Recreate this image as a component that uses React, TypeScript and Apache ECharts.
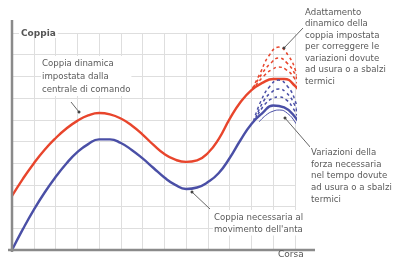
import React, { useEffect, useRef } from "react";
import * as echarts from "echarts";

const xs: number[] = [0, 0.5, 1, 1.5, 2, 2.5, 3, 3.5, 4, 4.5, 5, 5.5, 6, 6.5, 7, 7.5, 8, 8.5, 9, 9.5, 10, 10.5, 11, 11.5, 12, 12.5, 13, 13.5, 13.55];
const redValues: number[] = [2.49, 3.28, 3.99, 4.62, 5.15, 5.6, 5.95, 6.2, 6.31, 6.25, 6.06, 5.74, 5.32, 4.84, 4.42, 4.16, 4.06, 4.13, 4.47, 5.12, 6.04, 6.82, 7.37, 7.7, 7.88, 7.88, 7.56, 6.91, 6.82];
const blueValues: number[] = [0, 0.96, 1.85, 2.65, 3.36, 3.99, 4.51, 4.88, 5.1, 5.1, 4.93, 4.61, 4.22, 3.78, 3.34, 3.0, 2.81, 2.88, 3.13, 3.55, 4.24, 5.07, 5.81, 6.31, 6.66, 6.57, 6.13, 5.35, 5.25];

const blueInner: number[][] = [[11.35, 5.9], [11.65, 6.2], [12.0, 6.4], [12.3, 6.45], [12.65, 6.3], [13.0, 5.9], [13.2, 5.5]];
const redDashed1: number[][] = [[11.05, 7.45], [11.4, 8.15], [11.8, 8.95], [12.25, 9.35], [12.7, 8.95], [13.05, 8.2], [13.3, 7.3]];
const redDashed2: number[][] = [[11.1, 7.5], [11.5, 8.15], [11.9, 8.62], [12.25, 8.85], [12.65, 8.6], [13.0, 8.1], [13.25, 7.4]];
const redDashed3: number[][] = [[11.2, 7.6], [11.6, 8.05], [11.95, 8.32], [12.25, 8.43], [12.6, 8.3], [12.95, 7.95], [13.2, 7.45]];
const blueDashed1: number[][] = [[11.1, 5.95], [11.45, 6.9], [11.85, 7.55], [12.25, 7.83], [12.65, 7.55], [13.0, 6.9], [13.3, 5.75]];
const blueDashed2: number[][] = [[11.2, 6.1], [11.55, 6.85], [11.9, 7.25], [12.25, 7.42], [12.6, 7.25], [12.95, 6.75], [13.25, 5.9]];
const blueDashed3: number[][] = [[11.3, 6.25], [11.65, 6.75], [11.95, 6.98], [12.25, 7.05], [12.6, 6.92], [12.9, 6.55], [13.2, 6.0]];

const yAxisTitle = "Coppia";
const xAxisTitle = "Corsa";
const noteRed = "Coppia dinamica\nimpostata dalla\ncentrale di comando";
const noteAdapt = "Adattamento\ndinamico della\ncoppia impostata\nper correggere le\nvariazioni dovute\nad usura o a sbalzi\ntermici";
const noteVar = "Variazioni della\nforza necessaria\nnel tempo dovute\nad usura o a sbalzi\ntermici";
const noteBlue = "Coppia necessaria al\nmovimento dell'anta";

const RED = "#e8452c";
const BLUE = "#4a4fa6";
const FONT = "'DejaVu Sans', sans-serif";
const TXT = "#5a5a5a";

export default function App() {
  const ref = useRef<HTMLDivElement>(null);
  useEffect(() => {
    if (!ref.current) return;
    const chart = echarts.init(ref.current, null, { renderer: "svg" });
    const redSolid = xs.map((x, i) => [x, redValues[i]]);
    const blueSolid = xs.map((x, i) => [x, blueValues[i]]);
    const solid = (name: string, data: number[][], color: string, width: number) => ({
      type: "line", name, data, smooth: 0.5, showSymbol: false, symbol: "none", clip: false,
      lineStyle: { color, width }, z: 3,
    });
    const dashed = (name: string, data: number[][], color: string) => ({
      type: "line", name, data, smooth: 0.5, showSymbol: false, symbol: "none", clip: false,
      lineStyle: { color, width: 1.5, type: [3, 3] }, z: 3,
    });
    const leader = (x1: number, y1: number, x2: number, y2: number) => [
      { type: "line", shape: { x1, y1, x2, y2 }, style: { stroke: "#666", lineWidth: 1 }, z: 20 },
      { type: "circle", shape: { cx: x2, cy: y2, r: 1.5 }, style: { fill: "#444" }, z: 20 },
    ];
    const note = (x: number, y: number, text: string, lh: number) => ({
      type: "text", x, y, z: 30,
      style: { text, fill: TXT, font: `8.6px ${FONT}`, lineHeight: lh, backgroundColor: "#fff", padding: [1, 1] },
    });
    chart.setOption({
      animation: false,
      grid: { left: 12, right: 100, top: 33, bottom: 9, outerBoundsMode: "none" },
      xAxis: {
        type: "value", min: 0, max: 13, interval: 1,
        axisLine: { show: false }, axisTick: { show: false }, axisLabel: { show: false },
        splitLine: { show: true, lineStyle: { color: "#dedede", width: 1 } },
      },
      yAxis: {
        type: "value", min: 0, max: 10, interval: 1,
        axisLine: { show: false }, axisTick: { show: false }, axisLabel: { show: false },
        splitLine: { show: true, lineStyle: { color: "#dedede", width: 1 } },
      },
      series: [
        solid("red", redSolid, RED, 2.4),
        solid("blue", blueSolid, BLUE, 2.4),
        solid("blueInner", blueInner, BLUE, 1),
        dashed("rd1", redDashed1, RED),
        dashed("rd2", redDashed2, RED),
        dashed("rd3", redDashed3, RED),
        dashed("bd1", blueDashed1, BLUE),
        dashed("bd2", blueDashed2, BLUE),
        dashed("bd3", blueDashed3, BLUE),
      ],
      graphic: [
        { type: "line", shape: { x1: 12, y1: 20, x2: 12, y2: 252 }, style: { stroke: "#8a8a8a", lineWidth: 2.5 }, z: 10 },
        { type: "line", shape: { x1: 8, y1: 250, x2: 315, y2: 250 }, style: { stroke: "#8a8a8a", lineWidth: 2.5 }, z: 10 },
        { type: "text", x: 19, y: 27, z: 30, style: { text: yAxisTitle, fill: "#555", font: `bold 9px ${FONT}`, backgroundColor: "#fff", padding: [1, 2] } },
        { type: "text", x: 278, y: 249, z: 30, style: { text: xAxisTitle, fill: "#555", font: `9px ${FONT}`, lineHeight: 10 } },
        note(41, 56, noteRed, 12.7),
        note(304, 5, noteAdapt, 11.5),
        note(310, 145, noteVar, 11.7),
        note(213, 210, noteBlue, 11.7),
        ...leader(71, 102, 79, 112),
        ...leader(303, 28, 284, 48),
        ...leader(311, 148, 285, 118),
        ...leader(210, 209, 192, 192),
      ],
    });
    return () => chart.dispose();
  }, []);
  return <div ref={ref} style={{ position: "fixed", left: 0, top: 0, width: 395, height: 259 }} />;
}
